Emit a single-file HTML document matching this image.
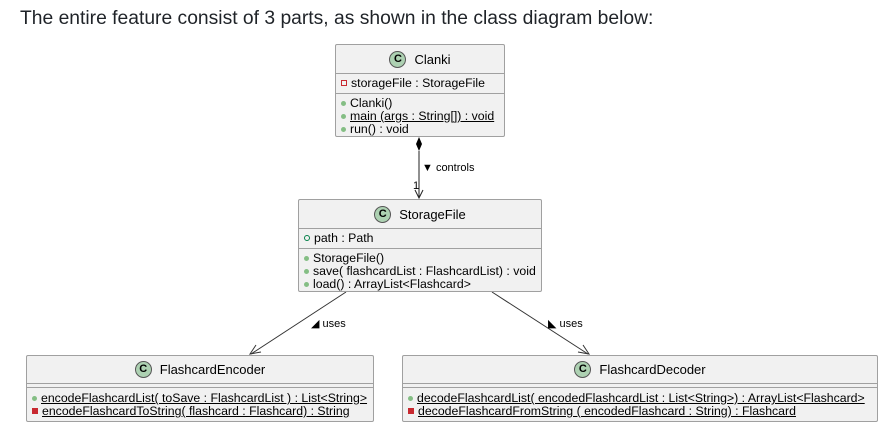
<!DOCTYPE html>
<html><head><style>
body{margin:0;width:896px;height:429px;background:#fff;position:relative;font-family:"Liberation Sans",sans-serif;overflow:hidden}
.t{position:absolute;left:20px;top:8px;font-size:19.3px;color:#1f2328}
.b{position:absolute;background:#f1f1f1;border:1px solid #a0a0a0;border-radius:2px;font-size:12.3px;color:#000;box-sizing:border-box}
.h{display:flex;justify-content:center;align-items:center;border-bottom:1px solid #a0a0a0;font-size:13px}
.c{display:inline-block;width:17px;height:17px;border-radius:50%;background:#add1b2;border:1px solid #555;box-sizing:border-box;font-weight:bold;font-size:11px;line-height:15px;text-align:center;margin-right:8px}
.s{border-bottom:1px solid #a0a0a0;padding:2px 5px}
.r{line-height:13px;white-space:nowrap}
.g{display:inline-block;width:5px;height:5px;border-radius:50%;background:#84be84;margin-right:4px;vertical-align:1px}
.o{display:inline-block;width:6px;height:6px;border-radius:50%;border:1px solid #038048;box-sizing:border-box;margin-right:4px;vertical-align:1px}
.p{display:inline-block;width:6px;height:6px;border:1px solid #c82930;box-sizing:border-box;margin-right:4px;vertical-align:1px}
.pf{display:inline-block;width:6px;height:6px;background:#c82930;margin-right:4px;vertical-align:1px}
u{text-decoration:underline}
.l{position:absolute;font-size:11px}
</style></head><body>
<div class="t">The entire feature consist of 3 parts, as shown in the class diagram below:</div>
<svg width="896" height="429" style="position:absolute;left:0;top:0">
<polygon points="419,137 422,144 419,151 416,144" fill="#000"/>
<line x1="419" y1="151" x2="419" y2="198" stroke="#222"/>
<polyline points="415,190 419,198 423,190" fill="none" stroke="#222"/>
<line x1="346" y1="292" x2="251" y2="354" stroke="#333"/>
<polyline points="256,345 250,354 261,352" fill="none" stroke="#333"/>
<line x1="492" y1="292" x2="588" y2="354" stroke="#333"/>
<polyline points="578,352 589,354 583,345" fill="none" stroke="#333"/>
</svg>
<div class="l" style="left:422px;top:162px">▼ controls</div>
<div class="l" style="left:413px;top:180px">1</div>
<div class="l" style="left:311px;top:317px">◢ uses</div>
<div class="l" style="left:548px;top:317px">◣ uses</div>

<div class="b" style="left:335px;top:44px;width:170px;height:93px">
<div class="h" style="height:28px"><span class="c">C</span>Clanki</div>
<div class="s" style="padding:3px 5px"><div class="r"><span class="p"></span>storageFile : StorageFile</div></div>
<div style="padding:3px 5px"><div class="r"><span class="g"></span>Clanki()</div><div class="r"><span class="g"></span><u>main (args : String[]) : void</u></div><div class="r"><span class="g"></span>run() : void</div></div>
</div>

<div class="b" style="left:298px;top:199px;width:244px;height:93px">
<div class="h" style="height:28px"><span class="c">C</span>StorageFile</div>
<div class="s" style="padding:3px 5px"><div class="r"><span class="o"></span>path : Path</div></div>
<div style="padding:3px 5px"><div class="r"><span class="g"></span>StorageFile()</div><div class="r"><span class="g"></span>save( flashcardList : FlashcardList) : void</div><div class="r"><span class="g"></span>load() : ArrayList&lt;Flashcard&gt;</div></div>
</div>

<div class="b" style="left:26px;top:355px;width:348px;height:67px">
<div class="h" style="height:27px"><span class="c">C</span>FlashcardEncoder</div>
<div class="s" style="height:3px;padding:0"></div>
<div style="padding:4px 5px"><div class="r"><span class="g"></span><u>encodeFlashcardList( toSave : FlashcardList ) : List&lt;String&gt;</u></div><div class="r"><span class="pf"></span><u>encodeFlashcardToString( flashcard : Flashcard) : String</u></div></div>
</div>

<div class="b" style="left:402px;top:355px;width:476px;height:67px">
<div class="h" style="height:27px"><span class="c">C</span>FlashcardDecoder</div>
<div class="s" style="height:3px;padding:0"></div>
<div style="padding:4px 5px"><div class="r"><span class="g"></span><u>decodeFlashcardList( encodedFlashcardList : List&lt;String&gt;) : ArrayList&lt;Flashcard&gt;</u></div><div class="r"><span class="pf"></span><u>decodeFlashcardFromString ( encodedFlashcard : String) : Flashcard</u></div></div>
</div>
</body></html>
